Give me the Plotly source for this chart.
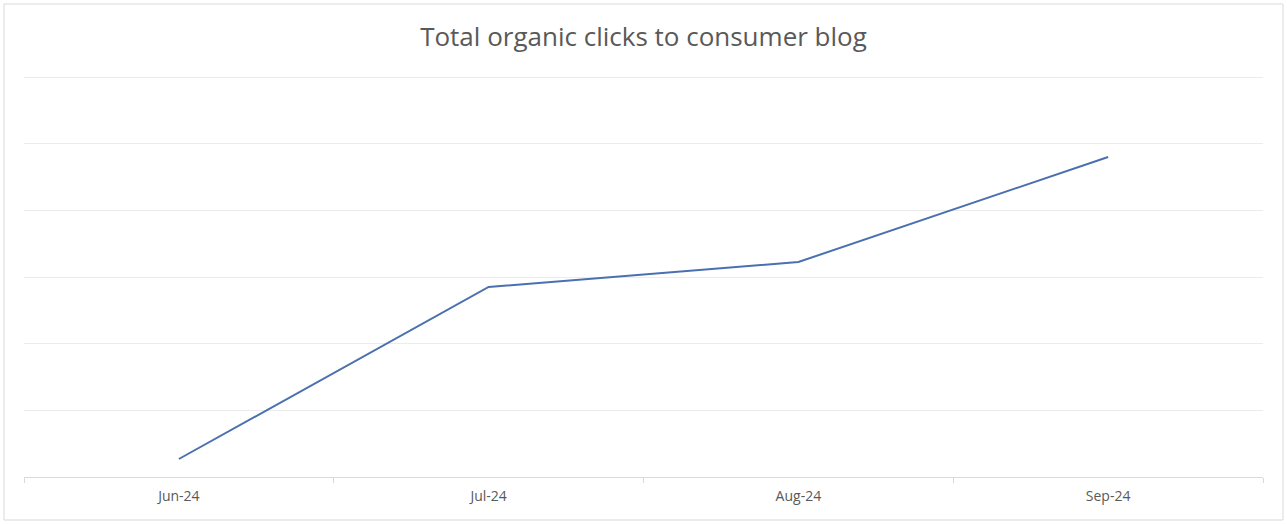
import plotly.graph_objects as go

months = ["Jun-24", "Jul-24", "Aug-24", "Sep-24"]
clicks = [270, 2850, 3225, 4800]
y_max = 6000
y_step = 1000

W, H = 1287, 524
ml, mr, mt, mb = 24, 24, 75, 47

fig = go.Figure(
    go.Scatter(
        x=months, y=clicks, mode="lines",
        line=dict(color="#4a70b0", width=2),
        hoverinfo="x+y",
    )
)

pw = W - ml - mr
ph = H - mt - mb
fig.add_shape(
    type="rect", xref="paper", yref="paper",
    x0=(4 - ml) / pw, x1=(W - 4 - ml) / pw,
    y0=-(H - 4 - (H - mb)) / ph, y1=(H - mb - 4) / ph,
    line=dict(color="#d9d9d9", width=1), fillcolor="rgba(0,0,0,0)", layer="below",
)

fig.update_layout(
    width=W, height=H,
    margin=dict(l=ml, r=mr, t=mt, b=mb),
    paper_bgcolor="white", plot_bgcolor="white",
    showlegend=False,
    title=dict(
        text="Total organic clicks to consumer blog",
        x=0.5, xanchor="center", y=1 - 37 / H, yanchor="middle",
        font=dict(family="Open Sans, Liberation Sans, sans-serif", size=26, color="#595959"),
    ),
    font=dict(family="Open Sans, Liberation Sans, sans-serif", color="#595959"),
)
fig.update_xaxes(
    type="category", range=[-0.5, 3.5],
    showline=True, linecolor="#d9d9d9", linewidth=1,
    ticks="outside", tickson="boundaries", ticklen=5, tickcolor="#d9d9d9",
    showgrid=False, zeroline=False,
    tickfont=dict(size=14, color="#595959"),
    ticklabelstandoff=6,
)
fig.update_yaxes(
    range=[0, y_max * ph / 400], dtick=y_step, tick0=0,
    showgrid=True, gridcolor="#ececec", gridwidth=1,
    showticklabels=False, zeroline=False, showline=False, ticks="",
)

fig.write_html(
    "out.html",
    config={"displayModeBar": False},
    post_script="document.body.style.margin='0px';",
)
